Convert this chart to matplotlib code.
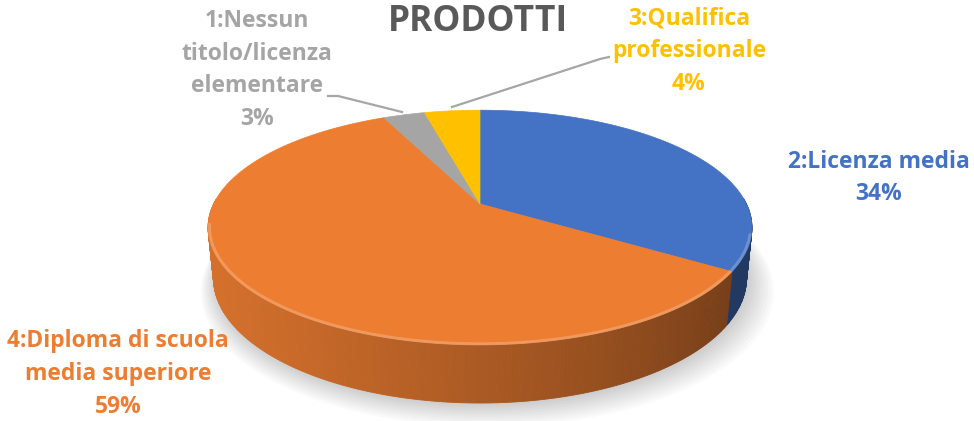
import numpy as np
import matplotlib
matplotlib.use("Agg")
import matplotlib.pyplot as plt
from matplotlib.patches import Polygon
from matplotlib.colors import to_rgb

# ---------------- data ----------------
title = "PRODOTTI"
categories = ["2:Licenza media",
              "4:Diploma di scuola\nmedia superiore",
              "1:Nessun\ntitolo/licenza\nelementare",
              "3:Qualifica\nprofessionale"]
values = [34, 59, 3, 4]
colors = ["#4472C4", "#ED7D31", "#A5A5A5", "#FFC000"]

# ---------------- layout / style ----------------
W, H = 974, 421
FONT = "Open Sans"
label_pos = [(879, 178), (118, 374), (257, 70), (689, 51)]
label_size = 16.5

fig = plt.figure(figsize=(W / 100, H / 100), dpi=100)
ax = fig.add_axes([0, 0, 1, 1])
ax.set_xlim(0, W)
ax.set_ylim(H, 0)
ax.axis("off")

# perspective projection of a flat cylinder (pie)
elev = np.deg2rad(25)
S, C = np.sin(elev), np.cos(elev)
DIST, FOC, CX, CY, THICK = 4.53, 1207.0, 480.0, 204.0, 0.209


def proj(X, Y, Z):
    ys = Y * S + Z * C
    d = DIST + Y * C - Z * S
    return CX + FOC * X / d, CY - FOC * ys / d


vals = np.array(values, dtype=float)
frac = vals / vals.sum()
bounds = 90.0 - 360.0 * np.concatenate([[0], np.cumsum(frac)])

# soft shadow
tt = np.deg2rad(np.linspace(0, 360, 240))
for k in range(10):
    r = 1.0 + 0.008 * k
    px, py = proj(r * np.cos(tt), r * np.sin(tt), -THICK)
    ax.add_patch(Polygon(np.column_stack([px + 2 + k * 0.6, py + 2 + k * 0.9]),
                         closed=True, facecolor="#000000", alpha=0.018,
                         edgecolor="none", zorder=1))


def shade(theta_deg):
    fct = 0.66 + 0.24 * np.cos(np.deg2rad(theta_deg - 195))
    return float(np.clip(fct, 0.5, 0.92))


# outer wall segments (far first)
segs = []
for i, col in enumerate(colors):
    t0, t1 = bounds[i], bounds[i + 1]
    n = max(int(abs(t0 - t1) * 1.5), 2)
    th = np.linspace(t0, t1, n + 1)
    for a, b in zip(th[:-1], th[1:]):
        m = 0.5 * (a + b)
        if np.sin(np.deg2rad(m)) < 0.05:
            segs.append((np.sin(np.deg2rad(m)), a, b, col))
segs.sort(key=lambda s: -s[0])
for _, a, b, col in segs:
    ar, br = np.deg2rad(a), np.deg2rad(b)
    x1, y1 = proj(np.cos(ar), np.sin(ar), 0)
    x2, y2 = proj(np.cos(br), np.sin(br), 0)
    x3, y3 = proj(np.cos(br), np.sin(br), -THICK)
    x4, y4 = proj(np.cos(ar), np.sin(ar), -THICK)
    rgb = np.array(to_rgb(col)) * shade(0.5 * (a + b))
    ax.add_patch(Polygon([(x1, y1), (x2, y2), (x3, y3), (x4, y4)], closed=True,
                         facecolor=rgb, edgecolor=rgb, linewidth=0.6, zorder=2))

# top faces
for i, col in enumerate(colors):
    t0, t1 = bounds[i], bounds[i + 1]
    th = np.deg2rad(np.linspace(t0, t1, max(int(abs(t0 - t1)), 2) + 1))
    px, py = proj(np.cos(th), np.sin(th), 0 * th)
    cx0, cy0 = proj(0, 0, 0)
    pts = np.column_stack([np.concatenate([[cx0], px]), np.concatenate([[cy0], py])])
    ax.add_patch(Polygon(pts, closed=True, facecolor=col, edgecolor=col,
                         linewidth=0.5, zorder=3))

# highlight along front top rim
th = np.deg2rad(np.linspace(190, 345, 200))
px, py = proj(np.cos(th) * 0.995, np.sin(th) * 0.995, 0 * th)
ax.plot(px, py, color="white", alpha=0.22, linewidth=2.2, zorder=4,
        solid_capstyle="round")

# title
ax.text(478, 22, title, ha="center", va="center", fontsize=25.5,
        fontweight="bold", color="#595959", family=FONT, zorder=6)

# labels
for cat, v, col, (lx, ly) in zip(categories, frac, colors, label_pos):
    ax.text(lx, ly, f"{cat}\n{round(v * 100):.0f}%", ha="center", va="center",
            multialignment="center", fontsize=label_size, fontweight="bold",
            color=col, family=FONT, linespacing=1.48, zorder=6)

# leader lines
lead = "#A6A6A6"
ax.plot([328, 338, 402], [96, 96, 112], color=lead, linewidth=1.6, zorder=5)
ax.plot([452, 600, 609], [107, 59, 57], color=lead, linewidth=1.6, zorder=5)

fig.savefig("out.png", dpi=100)
